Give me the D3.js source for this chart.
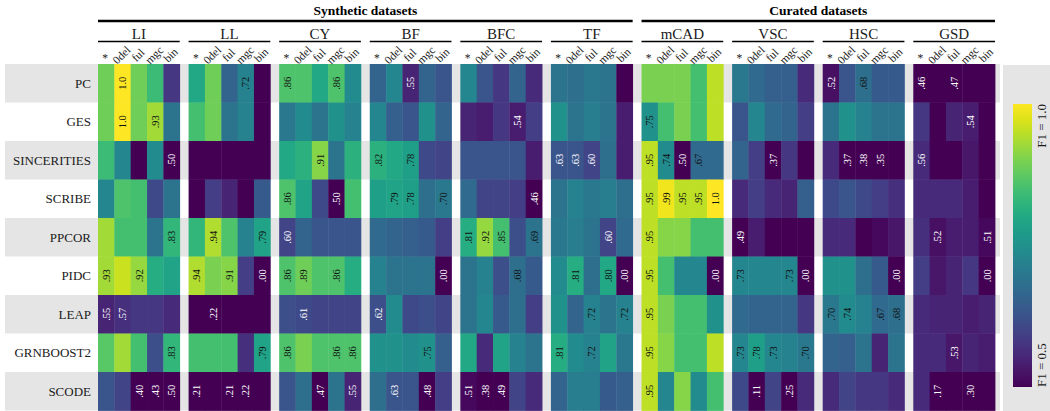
<!DOCTYPE html>
<html>
<head>
<meta charset="utf-8">
<script src="https://cdn.jsdelivr.net/npm/d3@7"></script>
<style>
  html, body { margin: 0; padding: 0; background: #fff; }
  svg { display: block; font-family: "Liberation Serif", "Times New Roman", serif; }
</style>
</head>
<body>
<svg id="chart" width="1050" height="411"></svg>
<script>
// Methods (rows), dataset groups and per-dataset variants (columns)
const methods = ["PC", "GES", "SINCERITIES", "SCRIBE", "PPCOR", "PIDC", "LEAP", "GRNBOOST2", "SCODE"];
const datasets = ["LI", "LL", "CY", "BF", "BFC", "TF", "mCAD", "VSC", "HSC", "GSD"];
const variants = ["*", "0del", "ful", "mgc", "bin"];
const sections = [
  { name: "Synthetic datasets", from: "LI", to: "TF" },
  { name: "Curated datasets", from: "mCAD", to: "GSD" }
];

// Median F1 per method; each row lists LI..GSD, five variants per dataset
const f1PC          = [.89,1.0,.89,.84,.58, .80,.89,.66,.72,.45, .86,.86,.80,.86,.74, .66,.73,.55,.66,.63, .73,.63,.58,.66,.56, .69,.68,.70,.69,.48, .90,.90,.90,.85,.95, .70,.67,.65,.65,.56, .52,.63,.68,.64,.64, .46,.47,.47,.48,.49];
const f1GES         = [.89,1.0,.89,.93,.69, .85,.89,.69,.72,.45, .70,.74,.69,.75,.72, .73,.65,.63,.75,.66, .55,.54,.58,.54,.59, .75,.69,.71,.69,.54, .75,.85,.90,.85,.95, .63,.73,.67,.66,.59, .69,.75,.72,.69,.69, .58,.49,.55,.54,.49];
const f1SINCERITIES = [.84,.73,.45,.74,.50, .40,.40,.40,.40,.40, .80,.82,.91,.69,.82, .82,.80,.78,.61,.60, .63,.63,.63,.63,.54, .63,.63,.60,.68,.54, .95,.74,.50,.67,.67, .66,.59,.37,.58,.47, .56,.37,.38,.35,.45, .56,.50,.50,.53,.48];
const f1SCRIBE      = [.73,.86,.85,.61,.69, .49,.59,.55,.45,.64, .86,.79,.61,.50,.85, .78,.79,.78,.68,.70, .67,.60,.60,.59,.46, .69,.72,.70,.71,.68, .95,.99,.95,.95,1.0, .56,.59,.56,.55,.65, .61,.63,.61,.59,.57, .56,.56,.56,.54,.46];
const f1PPCOR       = [.93,.85,.85,.69,.83, .83,.94,.86,.72,.79, .60,.66,.63,.63,.63, .67,.66,.65,.64,.59, .81,.92,.85,.62,.69, .70,.71,.69,.60,.67, .95,.91,.91,.85,.85, .49,.54,.47,.47,.47, .56,.56,.46,.51,.53, .57,.52,.54,.54,.51];
const f1PIDC        = [.93,.96,.92,.81,.79, .94,.90,.91,.59,.00, .86,.89,.86,.86,.81, .72,.69,.69,.69,.00, .69,.72,.62,.68,.64, .74,.81,.68,.80,.00, .95,.85,.73,.73,.00, .73,.73,.73,.73,.00, .75,.75,.68,.64,.00, .59,.53,.55,.58,.00];
const f1LEAP        = [.55,.57,.58,.58,.56, .45,.22,.45,.45,.45, .62,.61,.60,.60,.60, .62,.74,.61,.62,.60, .69,.73,.64,.68,.59, .75,.66,.72,.69,.72, .95,.90,.85,.85,.75, .67,.66,.66,.66,.58, .70,.74,.72,.67,.68, .56,.55,.55,.54,.55];
const f1GRNBOOST2   = [.87,.93,.85,.62,.83, .85,.85,.85,.57,.79, .86,.90,.86,.86,.86, .75,.75,.74,.75,.65, .80,.56,.79,.72,.69, .81,.74,.72,.79,.70, .95,.91,.85,.85,.95, .73,.78,.73,.72,.70, .66,.65,.69,.55,.69, .56,.56,.53,.55,.54];
const f1SCODE       = [.63,.60,.40,.43,.50, .21,.45,.21,.22,.45, .63,.68,.47,.69,.55, .68,.63,.63,.48,.59, .51,.38,.49,.60,.56, .66,.71,.71,.64,.65, .95,.73,.91,.74,.85, .61,.11,.60,.25,.56, .56,.60,.58,.58,.56, .56,.17,.49,.30,.49];
const f1Rows = [f1PC, f1GES, f1SINCERITIES, f1SCRIBE, f1PPCOR, f1PIDC, f1LEAP, f1GRNBOOST2, f1SCODE];

// Column indices (0..49) whose value is printed inside the cell, per method
const labelsPC          = [1, 8, 10, 13, 17, 40, 42, 45, 47];
const labelsGES         = [1, 3, 23, 30, 48];
const labelsSINCERITIES = [4, 12, 15, 17, 25, 26, 27, 30, 31, 32, 33, 37, 41, 42, 43, 45];
const labelsSCRIBE      = [10, 13, 16, 17, 19, 24, 30, 31, 32, 33, 34];
const labelsPPCOR       = [4, 6, 9, 10, 20, 21, 22, 24, 28, 30, 35, 46, 49];
const labelsPIDC        = [0, 2, 5, 7, 9, 10, 11, 13, 19, 23, 26, 28, 29, 30, 34, 35, 38, 39, 44, 49];
const labelsLEAP        = [0, 1, 6, 11, 15, 27, 29, 30, 40, 41, 43, 44];
const labelsGRNBOOST2   = [4, 9, 10, 13, 14, 18, 25, 27, 30, 35, 36, 37, 39, 47];
const labelsSCODE       = [2, 3, 4, 5, 7, 8, 12, 14, 16, 18, 20, 21, 22, 30, 36, 38, 46, 48];
const labelRows = [labelsPC, labelsGES, labelsSINCERITIES, labelsSCRIBE, labelsPPCOR, labelsPIDC, labelsLEAP, labelsGRNBOOST2, labelsSCODE];

const legendLow = 0.5, legendHigh = 1.0;

const svg = d3.select("#chart");

// Scales
const y = d3.scaleBand().domain(methods).range([64, 410.5]).padding(0);
const xGroup = d3.scaleBand().domain(datasets).range([98, 995]).paddingInner(0.098).paddingOuter(0);
const xVar = d3.scaleBand().domain(variants).range([0, xGroup.bandwidth()]).padding(0);
const color = d3.scaleSequential(d3.interpolateViridis).domain([legendLow, legendHigh]).clamp(true);

// Alternating row bands
svg.append("g").selectAll("rect")
  .data(methods.filter((m, i) => i % 2 === 0))
  .join("rect")
  .attr("x", 5).attr("width", 995)
  .attr("y", d => y(d)).attr("height", y.bandwidth())
  .attr("fill", "#e5e5e5");

// Row labels
svg.append("g").selectAll("text")
  .data(methods)
  .join("text")
  .attr("x", 91)
  .attr("y", d => y(d) + y.bandwidth() / 2)
  .attr("dy", "0.35em")
  .attr("text-anchor", "end")
  .attr("font-size", 13)
  .attr("fill", "#1a1a1a")
  .text(d => d);

// Cells
const cells = [];
methods.forEach((m, r) => {
  const lab = new Set(labelRows[r]);
  f1Rows[r].forEach((v, c) => {
    cells.push({
      method: m,
      dataset: datasets[Math.floor(c / variants.length)],
      variant: variants[c % variants.length],
      value: v,
      labelled: lab.has(c)
    });
  });
});
const cx = d => xGroup(d.dataset) + xVar(d.variant);

svg.append("g").selectAll("rect")
  .data(cells)
  .join("rect")
  .attr("x", cx)
  .attr("y", d => y(d.method))
  .attr("width", xVar.bandwidth() + 0.4)
  .attr("height", y.bandwidth() + 0.4)
  .attr("fill", d => color(d.value));

const fmt = v => v >= 1 ? "1.0" : d3.format(".2f")(v).replace(/^0/, "");

svg.append("g").selectAll("text")
  .data(cells.filter(d => d.labelled))
  .join("text")
  .attr("transform", d => `translate(${cx(d) + xVar.bandwidth() / 2},${y(d.method) + y.bandwidth() / 2}) rotate(-90)`)
  .attr("text-anchor", "middle")
  .attr("dy", "0.35em")
  .attr("font-size", 10.5)
  .attr("fill", d => d.value < 0.665 ? "#ffffff" : "#111111")
  .text(d => fmt(d.value));

// Section headers
const header = svg.append("g");
sections.forEach(s => {
  const x0 = xGroup(s.from), x1 = xGroup(s.to) + xGroup.bandwidth();
  header.append("line")
    .attr("x1", x0).attr("x2", x1).attr("y1", 21).attr("y2", 21)
    .attr("stroke", "#000").attr("stroke-width", 2.5);
  header.append("text")
    .attr("x", (x0 + x1) / 2).attr("y", 15)
    .attr("text-anchor", "middle")
    .attr("font-size", 13.5).attr("font-weight", "bold")
    .attr("fill", "#000")
    .text(s.name);
});

// Dataset headers
const dg = svg.append("g").selectAll("g")
  .data(datasets)
  .join("g")
  .attr("transform", d => `translate(${xGroup(d)},0)`);
dg.append("text")
  .attr("x", xGroup.bandwidth() / 2).attr("y", 38.5)
  .attr("text-anchor", "middle")
  .attr("font-size", 15)
  .attr("fill", "#1a1a1a")
  .text(d => d);
dg.append("line")
  .attr("x1", 0).attr("x2", xGroup.bandwidth())
  .attr("y1", 41.5).attr("y2", 41.5)
  .attr("stroke", "#000").attr("stroke-width", 1.4);
dg.selectAll("text.var")
  .data(variants)
  .join("text")
  .attr("class", "var")
  .attr("transform", v => v === "*"
    ? `translate(${xVar(v) + xVar.bandwidth() / 2 - 1},${58})`
    : `translate(${xVar(v) + xVar.bandwidth() / 2 - 1},${55}) rotate(-45)`)
  .attr("text-anchor", "middle")
  .attr("dy", "0.35em")
  .attr("font-size", 11.5)
  .attr("fill", "#1a1a1a")
  .text(v => v);

// Colour legend
const defs = svg.append("defs");
const grad = defs.append("linearGradient")
  .attr("id", "f1grad").attr("x1", 0).attr("x2", 0).attr("y1", 1).attr("y2", 0);
d3.range(0, 1.0001, 0.05).forEach(t => {
  grad.append("stop").attr("offset", t).attr("stop-color", d3.interpolateViridis(t));
});
const legend = svg.append("g");
legend.append("rect")
  .attr("x", 1003).attr("y", 65).attr("width", 47).attr("height", 346)
  .attr("fill", "#e5e5e5");
const ly = d3.scaleLinear().domain([legendLow, legendHigh]).range([387, 104]);
legend.append("rect")
  .attr("x", 1013).attr("width", 19)
  .attr("y", ly(legendHigh)).attr("height", ly(legendLow) - ly(legendHigh))
  .attr("fill", "url(#f1grad)");
legend.append("text")
  .attr("transform", `translate(1041,${ly(legendHigh)}) rotate(-90)`)
  .attr("text-anchor", "end").attr("dy", "0.35em")
  .attr("font-size", 13).attr("fill", "#1a1a1a")
  .text(`F1 = ${legendHigh.toFixed(1)}`);
legend.append("text")
  .attr("transform", `translate(1041,${ly(legendLow)}) rotate(-90)`)
  .attr("text-anchor", "start").attr("dy", "0.35em")
  .attr("font-size", 13).attr("fill", "#1a1a1a")
  .text(`F1 = ${legendLow.toFixed(1)}`);
</script>
</body>
</html>
